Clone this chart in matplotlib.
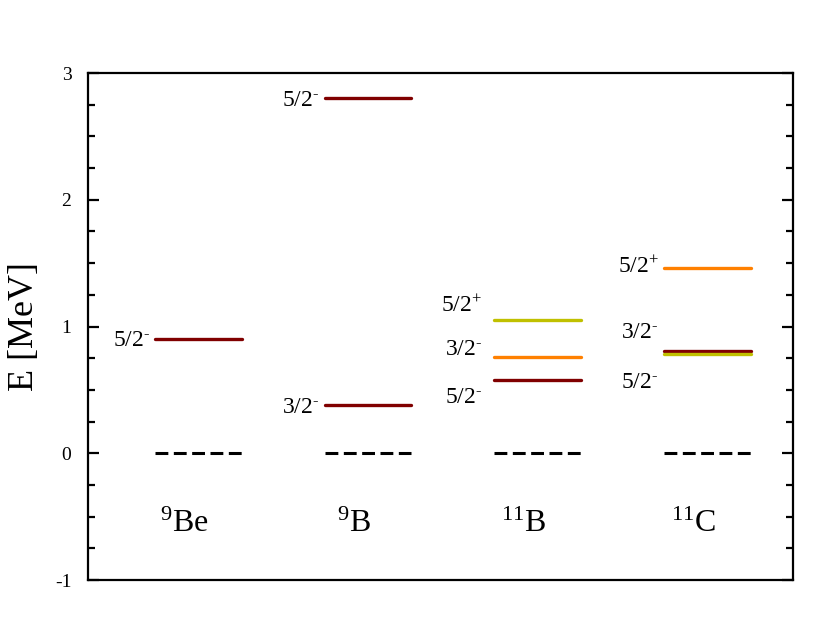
import matplotlib
matplotlib.use('Agg')
import matplotlib.pyplot as plt

plt.rcParams['font.family'] = ['Liberation Serif', 'DejaVu Serif']
plt.rcParams['mathtext.fontset'] = 'custom'
plt.rcParams['mathtext.rm'] = 'Liberation Serif'
plt.rcParams['mathtext.it'] = 'Liberation Serif'
plt.rcParams['axes.unicode_minus'] = False

# nuclei and their excited levels (MeV)
nuclei = ['$^{9}$Be', '$^{9}$B', '$^{11}$B', '$^{11}$C']
col_x = [1, 2, 3, 4]

level_col = [0, 1, 1, 2, 2, 2, 3, 3, 3]
level_E = [0.90, 2.80, 0.38, 1.05, 0.76, 0.58, 1.46, 0.81, 0.785]
level_color = ['#800000', '#800000', '#800000', '#c0c000', '#ff8000', '#800000',
               '#ff8000', '#800000', '#c0c000']
level_name = ['5/2$^{\\text{-}}$', '5/2$^{\\text{-}}$', '3/2$^{\\text{-}}$', '5/2$^{+}$',
              '3/2$^{\\text{-}}$', '5/2$^{\\text{-}}$', '5/2$^{+}$', '3/2$^{\\text{-}}$',
              '5/2$^{\\text{-}}$']
# where the spin labels sit (y in MeV)
label_y = [0.89, 2.78, 0.36, 1.16, 0.82, 0.44, 1.47, 0.95, 0.56]

half = 0.256

fig = plt.figure(figsize=(8.3, 6.19), dpi=100)
ax = fig.add_axes([0.106, 0.063, 0.849, 0.819])

for c in col_x:
    ax.plot([c - half, c + half], [0, 0], color='black', lw=2.2, ls=(0, (4.2, 1.8)))

for c, e, col in zip(level_col, level_E, level_color):
    x = col_x[c]
    ax.plot([x - half, x + half], [e, e], color=col, lw=2.4, solid_capstyle='round')

for c, ly, name in zip(level_col, label_y, level_name):
    x = col_x[c] - half - 0.03
    if c == 2:
        x -= 0.04
    ax.text(x, ly, name, ha='right', va='center', fontsize=17)

for c, name in zip(col_x, nuclei):
    ax.text(c - 0.08, -0.56, name, ha='center', va='center', fontsize=23)

ax.set_xlim(0.349, 4.504)
ax.set_ylim(-1, 3)
ax.set_xticks([])
ax.set_yticks([-1, 0, 1, 2, 3])
ax.set_yticks([v / 4 for v in range(-4, 13)], minor=True)
ax.tick_params(axis='y', which='both', direction='in', left=True, right=True,
               width=1.6, labelsize=14, pad=12)
ax.tick_params(axis='y', which='major', length=8)
ax.tick_params(axis='y', which='minor', length=5)
for s in ax.spines.values():
    s.set_linewidth(1.6)
ax.set_ylabel('E [MeV]', fontsize=26, labelpad=10)

fig.savefig('out.png', dpi=100)
